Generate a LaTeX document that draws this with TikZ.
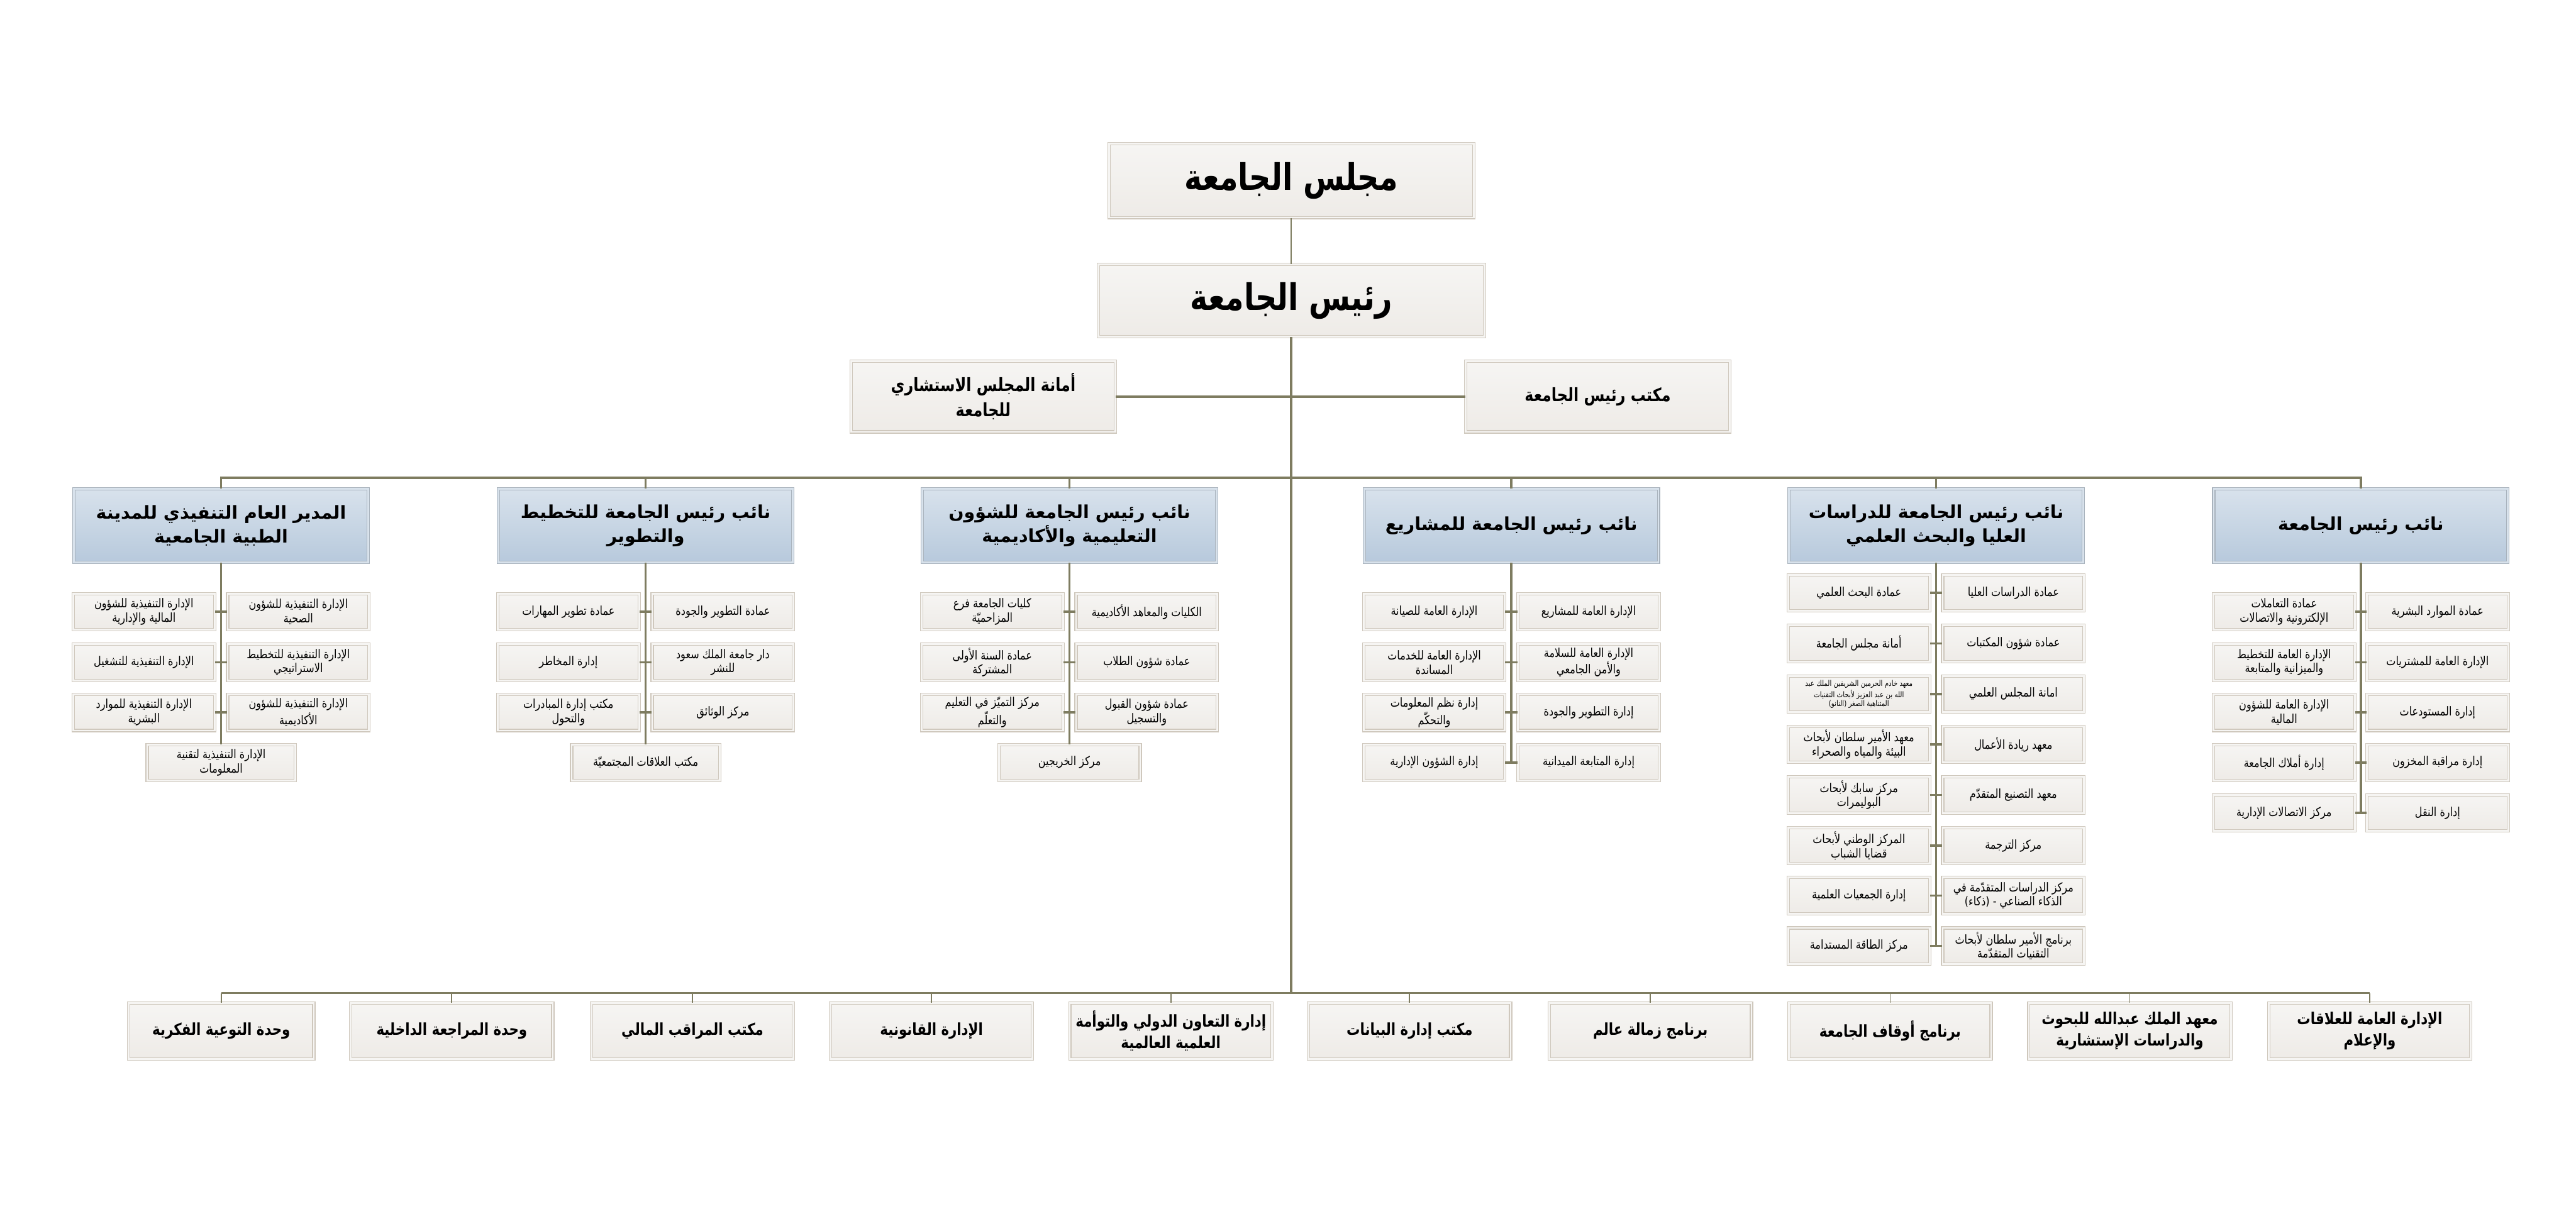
\documentclass[tikz,border=0pt]{standalone}
\usepackage{fontspec}
\usetikzlibrary{positioning,shadows}
\TeXXeTstate=1
\newfontfamily\arabicfont[Script=Arabic]{DejaVu Sans}
\newfontfamily\arabicnarrow[Script=Arabic,FakeStretch=0.82]{DejaVu Sans}
\newcommand{\rl}[1]{\beginR #1\endR}
\definecolor{cLine}{HTML}{7E7C60}
\definecolor{cEdge}{HTML}{CFC8BD}
\definecolor{cTop}{HTML}{F6F5F3}
\definecolor{cBot}{HTML}{EEEBE7}
\definecolor{cVt}{HTML}{D8E2EC}
\definecolor{cVb}{HTML}{B7C9DC}
\definecolor{cVe}{HTML}{A9B3BD}
\tikzset{
  unit/.style={draw=cEdge,double=cTop,double distance=0.9pt,line width=0.4pt,
               top color=cTop,bottom color=cBot,inner sep=1pt,align=center,
               drop shadow={opacity=0.12,shadow xshift=0.6pt,shadow yshift=-0.8pt}},
  head/.style={font=\arabicnarrow\bfseries\fontsize{19}{22}\selectfont},
  side/.style={unit,minimum width=4.83cm,minimum height=1.29cm,
               font=\arabicnarrow\bfseries\fontsize{9.5}{13}\selectfont},
  vp/.style={unit,draw=cVe,double=cVt,top color=cVt,bottom color=cVb,
             minimum width=5.37cm,minimum height=1.35cm,
             font=\arabicfont\bfseries\fontsize{9.3}{12.5}\selectfont},
  sub/.style={unit,minimum width=2.58cm,minimum height=0.66cm,
              font=\arabicnarrow\fontsize{6.4}{7.4}\selectfont},
  tiny/.style={font=\arabicnarrow\fontsize{4.1}{4.6}\selectfont},
  low/.style={unit,minimum width=3.69cm,minimum height=1.02cm,
              font=\arabicnarrow\bfseries\fontsize{8.5}{11}\selectfont},
  trunk/.style={cLine,line width=1.2pt},
  twig/.style={cLine,line width=0.6pt},
}
\begin{document}
\begin{tikzpicture}[x=0.03cm,y=-0.03cm]
  \useasboundingbox (0,0) rectangle (1568,739);

  % top of the chart
  \node[unit,head,minimum width=6.66cm,minimum height=1.35cm] (council) at (786,110) {\rl{مجلس الجامعة}};
  \node[unit,head,minimum width=7.05cm,minimum height=1.32cm] (pres) at (786,183) {\rl{رئيس الجامعة}};
  \node[side] (advis) at (598.5,241.5) {\rl{أمانة المجلس الاستشاري}\\\rl{للجامعة}};
  \node[side] (office) at (972.5,241.5) {\rl{مكتب رئيس الجامعة}};
  \coordinate (busT) at (786,291);
  \coordinate (busB) at (786,604.7);

  % vice presidents
  \node[vp] (vp1) at (134.6,320) {\rl{المدير العام التنفيذي للمدينة}\\\rl{الطبية الجامعية}};
  \node[vp] (vp2) at (393,320) {\rl{نائب رئيس الجامعة للتخطيط}\\\rl{والتطوير}};
  \node[vp] (vp3) at (651,320) {\rl{نائب رئيس الجامعة للشؤون}\\\rl{التعليمية والأكاديمية}};
  \node[vp] (vp4) at (920,320) {\rl{نائب رئيس الجامعة للمشاريع}};
  \node[vp] (vp5) at (1178.5,320) {\rl{نائب رئيس الجامعة للدراسات}\\\rl{العليا والبحث العلمي}};
  \node[vp] (vp6) at (1437,320) {\rl{نائب رئيس الجامعة}};

  % column 1
  \node[sub] (a1r) at (181.6,372.5) {\rl{الإدارة التنفيذية للشؤون}\\\rl{الصحية}};
  \node[sub] (a1l) at (87.6,372.5) {\rl{الإدارة التنفيذية للشؤون}\\\rl{المالية والإدارية}};
  \node[sub] (a2r) at (181.6,403.3) {\rl{الإدارة التنفيذية للتخطيط}\\\rl{الاستراتيجي}};
  \node[sub] (a2l) at (87.6,403.3) {\rl{الإدارة التنفيذية للتشغيل}};
  \node[sub] (a3r) at (181.6,433.8) {\rl{الإدارة التنفيذية للشؤون}\\\rl{الأكاديمية}};
  \node[sub] (a3l) at (87.6,433.8) {\rl{الإدارة التنفيذية للموارد}\\\rl{البشرية}};
  \node[sub,minimum width=2.7cm] (a4) at (134.6,464.3) {\rl{الإدارة التنفيذية لتقنية}\\\rl{المعلومات}};

  % column 2
  \node[sub] (b1r) at (440,372.5) {\rl{عمادة التطوير والجودة}};
  \node[sub] (b1l) at (346,372.5) {\rl{عمادة تطوير المهارات}};
  \node[sub] (b2r) at (440,403.3) {\rl{دار جامعة الملك سعود}\\\rl{للنشر}};
  \node[sub] (b2l) at (346,403.3) {\rl{إدارة المخاطر}};
  \node[sub] (b3r) at (440,433.8) {\rl{مركز الوثائق}};
  \node[sub] (b3l) at (346,433.8) {\rl{مكتب إدارة المبادرات}\\\rl{والتحول}};
  \node[sub,minimum width=2.7cm] (b4) at (393,464.3) {\rl{مكتب العلاقات المجتمعيّة}};

  % column 3
  \node[sub] (c1r) at (698,372.5) {\rl{الكليات والمعاهد الأكاديمية}};
  \node[sub] (c1l) at (604,372.5) {\rl{كليات الجامعة فرع}\\\rl{المزاحميّة}};
  \node[sub] (c2r) at (698,403.3) {\rl{عمادة شؤون الطلاب}};
  \node[sub] (c2l) at (604,403.3) {\rl{عمادة السنة الأولى}\\\rl{المشتركة}};
  \node[sub] (c3r) at (698,433.8) {\rl{عمادة شؤون القبول}\\\rl{والتسجيل}};
  \node[sub] (c3l) at (604,433.8) {\rl{مركز التميّز في التعليم}\\\rl{والتعلّم}};
  \node[sub] (c4) at (651,464.3) {\rl{مركز الخريجين}};

  % column 4
  \node[sub] (d1r) at (967,372.5) {\rl{الإدارة العامة للمشاريع}};
  \node[sub] (d1l) at (873,372.5) {\rl{الإدارة العامة للصيانة}};
  \node[sub] (d2r) at (967,403.3) {\rl{الإدارة العامة للسلامة}\\\rl{والأمن الجامعي}};
  \node[sub] (d2l) at (873,403.3) {\rl{الإدارة العامة للخدمات}\\\rl{المساندة}};
  \node[sub] (d3r) at (967,433.8) {\rl{إدارة التطوير والجودة}};
  \node[sub] (d3l) at (873,433.8) {\rl{إدارة نظم المعلومات}\\\rl{والتحكّم}};
  \node[sub] (d4r) at (967,464.3) {\rl{إدارة المتابعة الميدانية}};
  \node[sub] (d4l) at (873,464.3) {\rl{إدارة الشؤون الإدارية}};

  % column 5
  \node[sub] (e1r) at (1225.5,361) {\rl{عمادة الدراسات العليا}};
  \node[sub] (e1l) at (1131.5,361) {\rl{عمادة البحث العلمي}};
  \node[sub] (e2r) at (1225.5,391.8) {\rl{عمادة شؤون المكتبات}};
  \node[sub] (e2l) at (1131.5,391.8) {\rl{أمانة مجلس الجامعة}};
  \node[sub] (e3r) at (1225.5,422.6) {\rl{امانة المجلس العلمي}};
  \node[sub,tiny] (e3l) at (1131.5,422.6) {\rl{معهد خادم الحرمين الشريفين الملك عبد}\\\rl{الله بن عبد العزيز لأبحاث التقنيات}\\\rl{المتناهية الصغر (النانو)}};
  \node[sub] (e4r) at (1225.5,453.3) {\rl{معهد ريادة الأعمال}};
  \node[sub] (e4l) at (1131.5,453.3) {\rl{معهد الأمير سلطان لأبحاث}\\\rl{البيئة والمياه والصحراء}};
  \node[sub] (e5r) at (1225.5,484.1) {\rl{معهد التصنيع المتقدّم}};
  \node[sub] (e5l) at (1131.5,484.1) {\rl{مركز سابك لأبحاث}\\\rl{البوليمرات}};
  \node[sub] (e6r) at (1225.5,514.9) {\rl{مركز الترجمة}};
  \node[sub] (e6l) at (1131.5,514.9) {\rl{المركز الوطني لأبحاث}\\\rl{قضايا الشباب}};
  \node[sub] (e7r) at (1225.5,545.3) {\rl{مركز الدراسات المتقدّمة في}\\\rl{الذكاء الصناعي - (ذكاء)}};
  \node[sub] (e7l) at (1131.5,545.3) {\rl{إدارة الجمعيات العلمية}};
  \node[sub] (e8r) at (1225.5,576) {\rl{برنامج الأمير سلطان لأبحاث}\\\rl{التقنيات المتقدّمة}};
  \node[sub] (e8l) at (1131.5,576) {\rl{مركز الطاقة المستدامة}};

  % column 6
  \node[sub] (f1r) at (1483.7,372.5) {\rl{عمادة الموارد البشرية}};
  \node[sub] (f1l) at (1390.3,372.5) {\rl{عمادة التعاملات}\\\rl{الإلكترونية والاتصالات}};
  \node[sub] (f2r) at (1483.7,403.3) {\rl{الإدارة العامة للمشتريات}};
  \node[sub] (f2l) at (1390.3,403.3) {\rl{الإدارة العامة للتخطيط}\\\rl{والميزانية والمتابعة}};
  \node[sub] (f3r) at (1483.7,433.8) {\rl{إدارة المستودعات}};
  \node[sub] (f3l) at (1390.3,433.8) {\rl{الإدارة العامة للشؤون}\\\rl{المالية}};
  \node[sub] (f4r) at (1483.7,464.3) {\rl{إدارة مراقبة المخزون}};
  \node[sub] (f4l) at (1390.3,464.3) {\rl{إدارة أملاك الجامعة}};
  \node[sub] (f5r) at (1483.7,495) {\rl{إدارة النقل}};
  \node[sub] (f5l) at (1390.3,495) {\rl{مركز الاتصالات الإدارية}};

  % bottom row
  \node[low,minimum width=3.38cm] (g1) at (134.7,627.7) {\rl{وحدة التوعية الفكرية}};
  \node[low] (g2) at (275,627.7) {\rl{وحدة المراجعة الداخلية}};
  \node[low] (g3) at (421.5,627.7) {\rl{مكتب المراقب المالي}};
  \node[low] (g4) at (567,627.7) {\rl{الإدارة القانونية}};
  \node[low] (g5) at (712.7,627.7) {\rl{إدارة التعاون الدولي والتوأمة}\\\rl{العلمية العالمية}};
  \node[low] (g6) at (858,627.7) {\rl{مكتب إدارة البيانات}};
  \node[low] (g7) at (1004.6,627.7) {\rl{برنامج زمالة عالم}};
  \node[low] (g8) at (1150.5,627.7) {\rl{برنامج أوقاف الجامعة}};
  \node[low] (g9) at (1296.4,627.7) {\rl{معهد الملك عبدالله للبحوث}\\\rl{والدراسات الإستشارية}};
  \node[low] (g10) at (1442.4,627.7) {\rl{الإدارة العامة للعلاقات}\\\rl{والإعلام}};

  % connectors
  \draw[twig] (council.south) -- (pres.north);
  \draw[trunk] (pres.south) -- (busB);
  \draw[trunk] (advis.east) -- (office.west);
  \draw[trunk] (vp1.north) -- (vp1.north |- busT) -- (vp6.north |- busT) -- (vp6.north);
  \foreach \v in {vp2,vp3,vp4,vp5}
    \draw[trunk] (\v.north) -- (\v.north |- busT);
  \draw[trunk] (vp1.south) -- (a4.north);
  \draw[trunk] (vp2.south) -- (b4.north);
  \draw[trunk] (vp3.south) -- (c4.north);
  \draw[trunk] (vp4.south) -- (vp4.south |- d4r.west);
  \draw[trunk] (vp5.south) -- (vp5.south |- e8r.west);
  \draw[trunk] (vp6.south) -- (vp6.south |- f5r.west);
  \foreach \r in {a1,a2,a3,b1,b2,b3,c1,c2,c3,d1,d2,d3,d4,
                  e1,e2,e3,e4,e5,e6,e7,e8,f1,f2,f3,f4,f5}
    \draw[trunk] (\r l.east) -- (\r r.west);
  \draw[trunk] (g1.north |- busB) -- (g10.north |- busB);
  \foreach \g in {g1,g2,g3,g4,g5,g6,g7,g8,g9,g10}
    \draw[twig] (\g.north |- busB) -- (\g.north);
\end{tikzpicture}
\end{document}
